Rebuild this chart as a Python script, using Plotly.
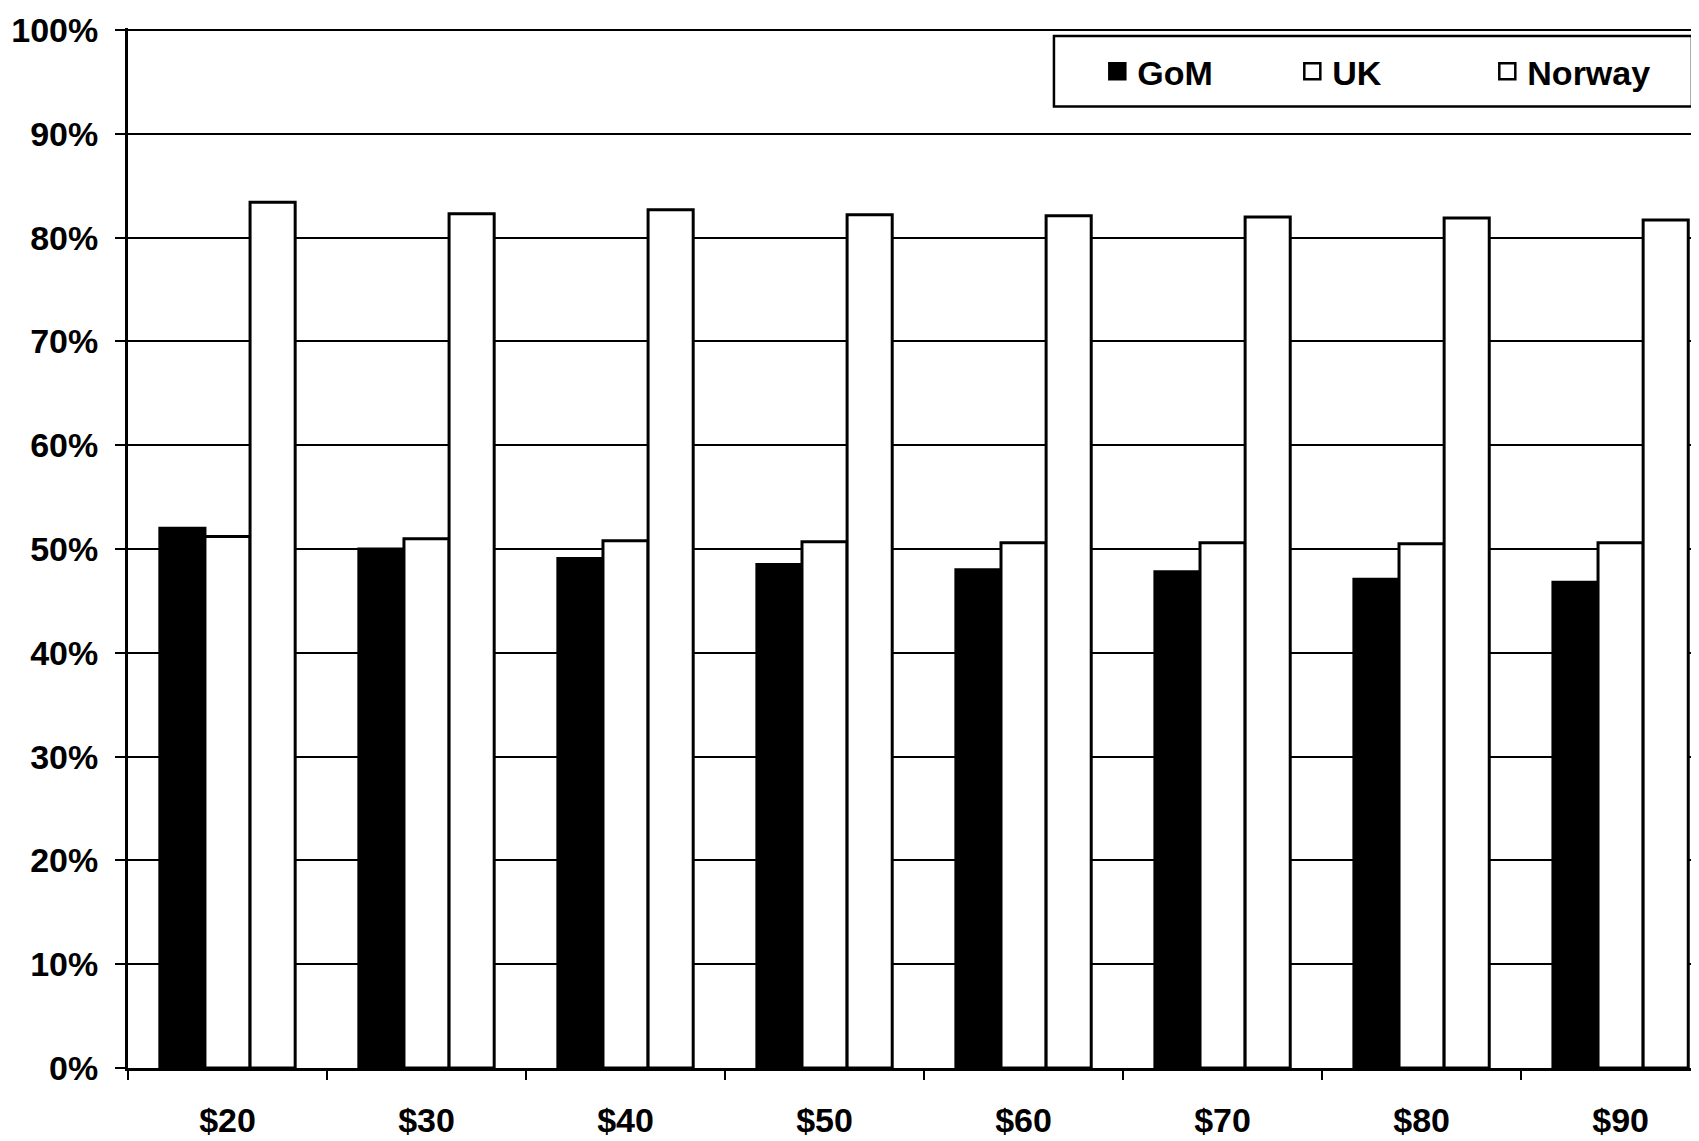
import plotly.graph_objects as go

categories = ["$20", "$30", "$40", "$50", "$60", "$70", "$80", "$90"]
gom = [52.0, 50.0, 49.1, 48.5, 48.0, 47.8, 47.1, 46.8]
uk = [51.2, 51.0, 50.8, 50.7, 50.6, 50.6, 50.5, 50.6]
norway = [83.4, 82.3, 82.7, 82.2, 82.1, 82.0, 81.9, 81.7]
series_names = ["GoM", "UK", "Norway"]
y_ticks = list(range(0, 101, 10))
y_tick_labels = [f"{v}%" for v in y_ticks]

fnt = dict(family="Liberation Sans, Arial, sans-serif", size=34, color="black", weight="bold")
fills = ["black", "white", "white"]

fig = go.Figure()
for name, vals, fill in zip(series_names, [gom, uk, norway], fills):
    fig.add_trace(go.Bar(name=name, x=categories, y=vals, showlegend=False,
                         marker=dict(color=fill, line=dict(color="black", width=3))))
# legend entries with larger square symbols
for name, fill in zip(series_names, fills):
    fig.add_trace(go.Scatter(name=name, x=[None], y=[None], mode="markers",
                             marker=dict(symbol="square", size=22, color=fill,
                                         line=dict(color="black", width=2.5))))

fig.update_layout(
    width=1691, height=1133,
    margin=dict(l=120, r=0, t=20, b=73, autoexpand=False),
    paper_bgcolor="white", plot_bgcolor="white",
    barmode="group", bargap=0.32, bargroupgap=0,
    font=fnt,
    showlegend=True,
    legend=dict(orientation="h", x=0.617, y=0.958, xanchor="left", yanchor="middle",
                borderwidth=0, bgcolor="rgba(0,0,0,0)",
                font=fnt, entrywidth=150, itemwidth=30, itemsizing="trace",
                traceorder="normal"),
    shapes=[dict(type="rect", xref="paper", yref="paper",
                 x0=0.5894, x1=0.9955, y0=0.9245, y1=0.9923,
                 line=dict(color="black", width=2.5), fillcolor="rgba(0,0,0,0)",
                 layer="above")],
)
fig.update_xaxes(
    range=[-0.5, 7.394], showline=True, linecolor="black", linewidth=3,
    ticks="outside", tickson="boundaries", ticklen=9, tickwidth=2, tickcolor="black",
    ticklabelstandoff=20, showgrid=False, tickfont=fnt, ticklabeloverflow="allow",
    automargin=False,
)
fig.update_yaxes(
    range=[0, 100.2], tickvals=y_ticks, ticktext=y_tick_labels,
    showline=True, linecolor="black", linewidth=3,
    ticks="outside", ticklen=10, tickwidth=2, tickcolor="black",
    ticklabelstandoff=10, ticklabeloverflow="allow", automargin=False,
    showgrid=True, gridcolor="black", gridwidth=1.5, zeroline=False, tickfont=fnt,
)

fig.write_html("out.html")
